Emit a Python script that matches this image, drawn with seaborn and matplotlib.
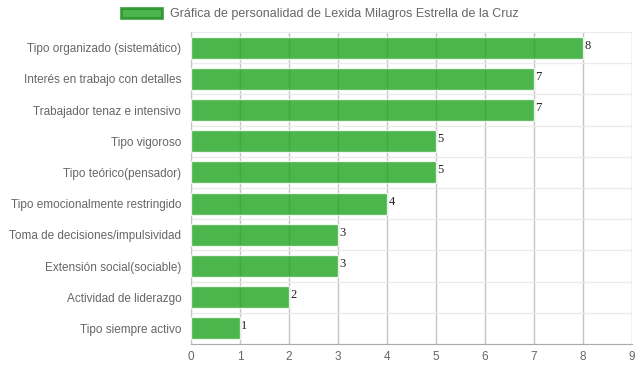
import numpy as np
import pandas as pd
import matplotlib
matplotlib.use("Agg")
import matplotlib.pyplot as plt
import seaborn as sns
from matplotlib.patches import Patch

categorias = [
    "Tipo organizado (sistemático)",
    "Interés en trabajo con detalles",
    "Trabajador tenaz e intensivo",
    "Tipo vigoroso",
    "Tipo teórico(pensador)",
    "Tipo emocionalmente restringido",
    "Toma de decisiones/impulsividad",
    "Extensión social(sociable)",
    "Actividad de liderazgo",
    "Tipo siempre activo",
]
valores = [8, 7, 7, 5, 5, 4, 3, 3, 2, 1]
titulo = "Gráfica de personalidad de Lexida Milagros Estrella de la Cruz"

df = pd.DataFrame({"cat": categorias, "val": valores})

sns.set_style("white")
plt.rcParams["font.family"] = ["Liberation Sans", "DejaVu Sans"]

fig = plt.figure(figsize=(6.39, 3.72), dpi=100)
ax = fig.add_axes([191 / 639, 1 - 344 / 372, 441 / 639, 312 / 372])

verde = "#1fa41f"
sns.barplot(data=df, x="val", y="cat", orient="h", color=verde, saturation=1,
            width=0.71, alpha=0.8, ax=ax, zorder=3)

ax.set_xlim(0, 9)
ax.set_ylim(len(categorias) - 0.5, -0.5)
ax.set_xticks(range(0, 10))
ax.set_xlabel("")
ax.set_ylabel("")

# rejilla (se ve a través de las barras)
ax.set_yticks(np.arange(-0.5, len(categorias)), minor=True)
ax.grid(axis="x", color="#c4c4c4", linewidth=1, zorder=1)
ax.grid(axis="y", which="minor", color="#ebebeb", linewidth=1, zorder=1)
ax.tick_params(axis="y", which="minor", length=8, color="#ebebeb")
ax.tick_params(axis="y", which="major", length=0, pad=7, labelsize=8.5, labelcolor="#666666")
ax.tick_params(axis="x", length=3, color="#c4c4c4", labelsize=8.5, labelcolor="#666666", pad=2)
for s in ["top", "right"]:
    ax.spines[s].set_visible(False)
ax.spines["left"].set_color("#c4c4c4")
ax.spines["bottom"].set_color("#aaaaaa")

# etiquetas de valor
for i, v in enumerate(valores):
    ax.annotate(str(v), (v, i), xytext=(1, 1.5), textcoords="offset points",
                ha="left", va="center", fontsize=9, color="#222222",
                family=["Liberation Serif", "DejaVu Serif"], zorder=4)

leg = fig.legend(handles=[Patch(facecolor=verde, alpha=0.8, edgecolor="#1e8c1e", linewidth=2)],
                 labels=[titulo], loc="center", bbox_to_anchor=(0.5, 1 - 14 / 372),
                 frameon=False, handlelength=3.3, handleheight=0.9,
                 fontsize=9, labelcolor="#666666", handletextpad=0.6)

fig.savefig("out.png", dpi=100)
